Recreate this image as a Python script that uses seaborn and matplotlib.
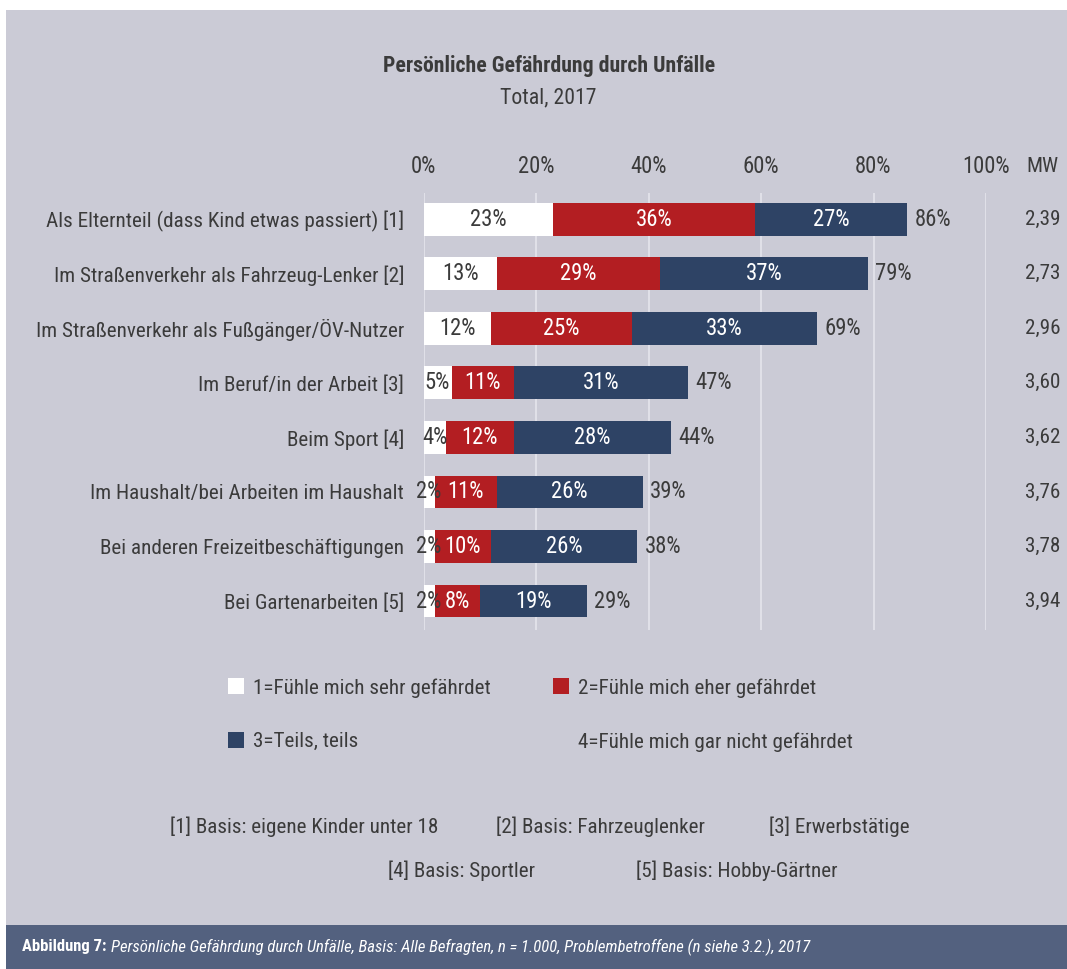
import matplotlib
matplotlib.use("Agg")
import matplotlib.pyplot as plt
from matplotlib import font_manager as fm
from matplotlib.patches import Patch, Rectangle
from matplotlib.transforms import blended_transform_factory
import pandas as pd
import seaborn as sns

# ---- data ---------------------------------------------------------------
categories = [
    "Als Elternteil (dass Kind etwas passiert) [1]",
    "Im Straßenverkehr als Fahrzeug-Lenker [2]",
    "Im Straßenverkehr als Fußgänger/ÖV-Nutzer",
    "Im Beruf/in der Arbeit [3]",
    "Beim Sport [4]",
    "Im Haushalt/bei Arbeiten im Haushalt",
    "Bei anderen Freizeitbeschäftigungen",
    "Bei Gartenarbeiten [5]",
]
sehr = [23, 13, 12, 5, 4, 2, 2, 2]
eher = [36, 29, 25, 11, 12, 11, 10, 8]
teils = [27, 37, 33, 31, 28, 26, 26, 19]
totals = [86, 79, 69, 47, 44, 39, 38, 29]
mw = ["2,39", "2,73", "2,96", "3,60", "3,62", "3,76", "3,78", "3,94"]

legend_labels = [
    "1=Fühle mich sehr gefährdet",
    "2=Fühle mich eher gefährdet",
    "3=Teils, teils",
    "4=Fühle mich gar nicht gefährdet",
]
notes_row1 = ["[1] Basis: eigene Kinder unter 18", "[2] Basis: Fahrzeuglenker", "[3] Erwerbstätige"]
notes_row2 = ["[4] Basis: Sportler", "[5] Basis: Hobby-Gärtner"]
x_ticks = [0, 20, 40, 60, 80, 100]

# ---- fonts: prefer a narrow sans, else a compact one at a smaller size ----
sns.set_style("white")
fonts = fm.fontManager.ttflist
names = {f.name for f in fonts}
condensed_names = {f.name for f in fonts
                   if f.stretch in ("condensed", "semi-condensed", "extra-condensed")
                   or (isinstance(f.stretch, int) and f.stretch < 500)}
FS = 14
CAP_FS = 11.5
if "Liberation Sans Narrow" in names:
    plt.rcParams["font.family"] = ["Liberation Sans Narrow", "DejaVu Sans"]
elif "Roboto Condensed" in names:
    plt.rcParams["font.family"] = ["Roboto Condensed", "DejaVu Sans"]
elif condensed_names & {"Noto Sans", "Open Sans", "DejaVu Sans", "Roboto"}:
    fam = sorted(condensed_names & {"Noto Sans", "Open Sans", "DejaVu Sans", "Roboto"})[0]
    plt.rcParams["font.family"] = [fam, "DejaVu Sans"]
    plt.rcParams["font.stretch"] = "condensed"
else:
    plt.rcParams["font.family"] = ["Roboto", "DejaVu Sans"]
    FS = 12
    CAP_FS = 10
FS *= 1.09
CAP_FS *= 1.04
TITLE_FS = FS * 1.03
NUM_FS = FS * 1.07
FS_PX = FS * 100 / 72

BG = "#cbcbd6"
RED = "#b31e22"
NAVY = "#2e4365"
WHITE = "#ffffff"
TXT = "#3b3b3b"
GRID = "#e0e0e8"
BAR_CAPTION = "#53617f"

W, H = 1067, 969
fig = plt.figure(figsize=(W / 100, H / 100), dpi=100, facecolor="white")

# panel and caption strip, kept behind everything else
fig.patches.append(Rectangle((6 / W, 44 / H), 1 - 6 / W, 1 - 10 / H - 44 / H,
                             transform=fig.transFigure, facecolor=BG, edgecolor="none", zorder=-10))
fig.patches.append(Rectangle((6 / W, 0), 1 - 6 / W, 44 / H,
                             transform=fig.transFigure, facecolor=BAR_CAPTION, edgecolor="none", zorder=-10))

# plot area: 0% .. 100% spans x = 423.5 .. 986 px, rows from y = 193 .. 630 px
left, right = 423.5 / W, 986 / W
top, bottom = 193 / H, 630 / H
ax = fig.add_axes([left, 1 - bottom, right - left, bottom - top])
ax.set_facecolor("none")

df = pd.DataFrame({"cat": categories, "sehr": sehr, "eher": eher, "teils": teils})
df["cum1"] = df["sehr"]
df["cum2"] = df["sehr"] + df["eher"]
df["cum3"] = df["sehr"] + df["eher"] + df["teils"]

# stacked bars drawn back to front from cumulative sums
for col, colr in [("cum3", NAVY), ("cum2", RED), ("cum1", WHITE)]:
    sns.barplot(data=df, x=col, y="cat", orient="h", color=colr, saturation=1,
                width=0.6, linewidth=0, edgecolor="none", ax=ax, zorder=3)

ax.set_xlim(0, 100)
ax.set_ylim(7.53, -0.48)
ax.set_xlabel("")
ax.set_ylabel("")
for s in ax.spines.values():
    s.set_visible(False)

ax.xaxis.tick_top()
ax.set_xticks(x_ticks)
ax.set_xticklabels([f"{v}%" for v in x_ticks], fontsize=NUM_FS, color=TXT)
ax.tick_params(axis="x", length=0, pad=11)
ax.tick_params(axis="y", length=0, pad=14, labelsize=FS, labelcolor=TXT)
ax.grid(axis="x", color=GRID, linewidth=1.5, zorder=0)
ax.grid(axis="y", visible=False)
ax.set_axisbelow(True)

MW_X = 110.1
# segment, total and mean labels
for i in range(len(categories)):
    starts = [0, sehr[i], sehr[i] + eher[i]]
    vals = [sehr[i], eher[i], teils[i]]
    colors = [TXT, "white", "white"]
    for s0, v, c in zip(starts, vals, colors):
        ax.text(s0 + v / 2, i, f"{v}%", ha="center", va="center",
                fontsize=NUM_FS, color=c, zorder=5)
    end = sehr[i] + eher[i] + teils[i]
    ax.text(end + 1.3, i, f"{totals[i]}%", ha="left", va="center",
            fontsize=NUM_FS, color=TXT, zorder=5)
    ax.text(MW_X, i, mw[i], ha="center", va="center", fontsize=FS, color=TXT,
            clip_on=False)

trans = blended_transform_factory(ax.transData, fig.transFigure)
ax.text(MW_X, 1 - 166 / H, "MW", transform=trans, ha="center", va="center",
        fontsize=FS, color=TXT)

# titles
fig.text(549 / W, 1 - 66 / H, "Persönliche Gefährdung durch Unfälle", ha="center",
         va="center", fontsize=TITLE_FS, fontweight="bold", color=TXT)
fig.text(548 / W, 1 - 98 / H, "Total, 2017", ha="center", va="center",
         fontsize=TITLE_FS, color=TXT)

# legend (column-major order gives rows 1|2 and 3|4)
handles = [
    Patch(facecolor=WHITE, edgecolor="none"),
    Patch(facecolor=NAVY, edgecolor="none"),
    Patch(facecolor=RED, edgecolor="none"),
    Patch(facecolor="none", edgecolor="none"),
]
labels = [legend_labels[0], legend_labels[2], legend_labels[1], legend_labels[3]]
fig.legend(handles, labels, ncol=2, loc="upper left",
           bbox_to_anchor=(228 / W, 1 - 678 / H), frameon=False,
           fontsize=FS, labelcolor=TXT,
           handlelength=16 / FS_PX, handleheight=16 / FS_PX,
           handletextpad=9 / FS_PX, labelspacing=(60 - 1.2 * FS_PX) / FS_PX,
           columnspacing=62 / FS_PX, borderpad=0, borderaxespad=0)

# base footnotes
for x, t in zip([304, 600, 839], notes_row1):
    fig.text(x / W, 1 - 827 / H, t, ha="center", va="center", fontsize=FS, color=TXT)
for x, t in zip([461, 737], notes_row2):
    fig.text(x / W, 1 - 871 / H, t, ha="center", va="center", fontsize=FS, color=TXT)

# caption line
cap = fig.text(22 / W, 22 / H, "Abbildung 7:", ha="left", va="center",
               fontsize=CAP_FS, fontweight="bold", color="white")
fig.texts.append(plt.Annotation(
    "Persönliche Gefährdung durch Unfälle, Basis: Alle Befragten, n = 1.000, "
    "Problembetroffene (n siehe 3.2.), 2017",
    xy=(1, 0.5), xycoords=cap, xytext=(3, 0), textcoords="offset points",
    ha="left", va="center", fontsize=CAP_FS, fontstyle="italic", color="white",
    annotation_clip=False))
fig.texts[-1].set_figure(fig)

fig.savefig("out.png", dpi=100, facecolor="white")
